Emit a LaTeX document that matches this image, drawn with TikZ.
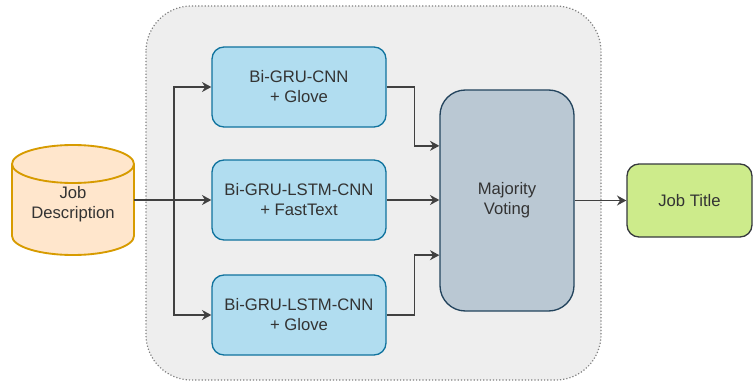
\documentclass[tikz,border=0pt]{standalone}
\usepackage{fontspec}
\setmainfont{Liberation Sans}
\usetikzlibrary{arrows.meta}

\definecolor{grupo}{HTML}{EEEEEE}
\definecolor{modelo}{HTML}{B1DDF0}
\definecolor{modeloborda}{HTML}{10739E}
\definecolor{voto}{HTML}{BAC8D3}
\definecolor{votoborda}{HTML}{23445D}
\definecolor{saida}{HTML}{CDEB8B}
\definecolor{saidaborda}{HTML}{36393D}
\definecolor{entrada}{HTML}{FFE6CC}
\definecolor{entradaborda}{HTML}{D79B00}
\definecolor{texto}{HTML}{333333}

\tikzset{
  modelbox/.style={draw=modeloborda, fill=modelo, line width=1pt, rounded corners=9pt,
    minimum width=130.5pt, minimum height=60pt, align=center},
  conn/.style={draw=black!75, line width=1.1pt, -{Stealth[length=7pt,width=7.5pt]}}
}

\begin{document}
\begin{tikzpicture}[x=0.75pt, y=-0.75pt, font=\fontsize{12.5}{15}\selectfont, text=texto]
      \useasboundingbox (0,0) rectangle (753,385);

      % Grupo
      \draw[draw=black!50, fill=grupo, line width=0.9pt, dash pattern=on 0.9pt off 1.5pt, rounded corners=34pt]
        (146,6) rectangle (601,380);

      % Cilindro
      \draw[draw=entradaborda, fill=entrada, line width=1.4pt]
        (12,164) -- (12,236) arc (180:0:61 and 19) -- (134,164) arc (0:-180:61 and 19) -- cycle;
      \draw[draw=entradaborda, line width=1.4pt] (12,164) arc (180:0:61 and 19);
      \node[minimum width=91.5pt, minimum height=82.5pt, inner sep=0pt, align=center] (jd) at (73,200) {};
      \node[align=center] (jdtext) at (73,204) {Job\\Description};

      % Modelos
      \node[modelbox] (gc) at (299,87) {Bi-GRU-CNN\\+ Glove};
      \node[modelbox] (glf) at (299,200) {Bi-GRU-LSTM-CNN\\+ FastText};
      \node[modelbox] (glg) at (299,315) {Bi-GRU-LSTM-CNN\\+ Glove};

      % Votação
      \node[draw=votoborda, fill=voto, line width=1pt, rounded corners=19pt,
        minimum width=100.5pt, minimum height=165.75pt, align=center] (mv) at (507,200.5) {Majority\\Voting};

      % Saída
      \node[draw=saidaborda, fill=saida, line width=1pt, rounded corners=9pt,
        minimum width=93.75pt, minimum height=54.75pt] (jt) at (689.5,200.5) {Job Title};

      % Ligações
      \coordinate (split) at (174,200);
      \draw[conn] (jd.east) -- (glf.west);
      \draw[conn] (split) |- (gc.west);
      \draw[conn] (split) |- (glg.west);
      \draw[conn] (gc.east) -- ++(28,0) |- ([yshift=41pt]mv.west);
      \draw[conn] (glf.east) -- (glf.east -| mv.west);
      \draw[conn] (glg.east) -- ++(28,0) |- ([yshift=-41pt]mv.west);
      \draw[conn] (mv.east) -- (jt.west);
    \end{tikzpicture}
\end{document}
